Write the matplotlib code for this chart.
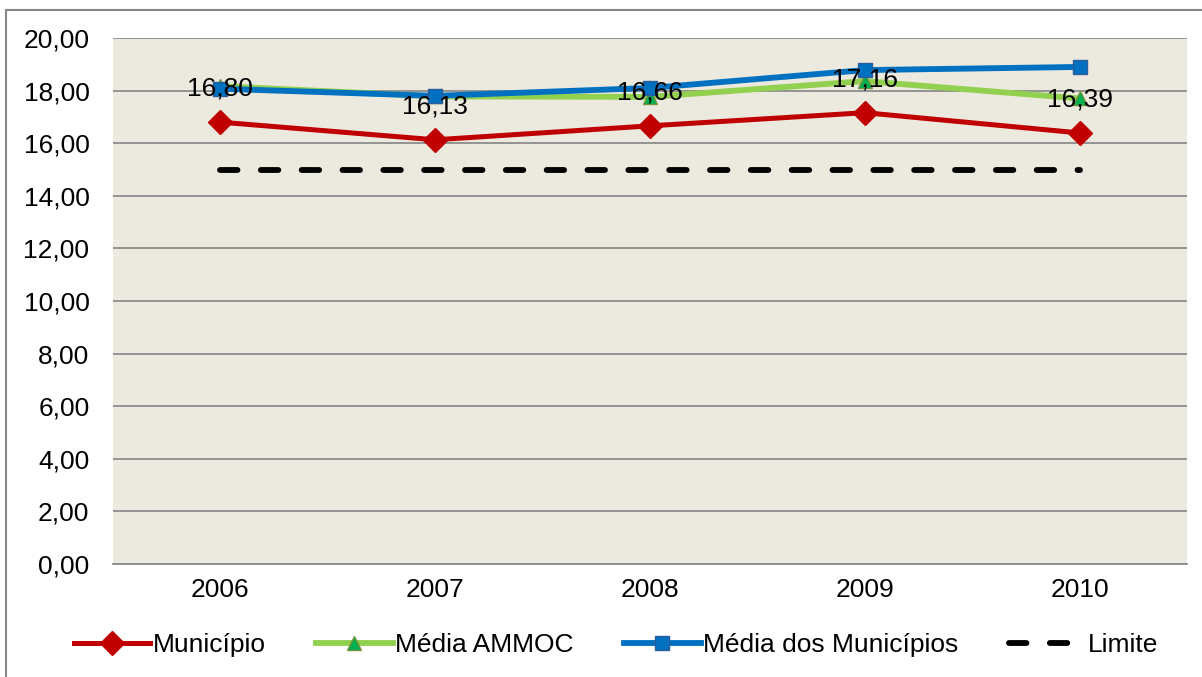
import matplotlib.pyplot as plt
from matplotlib.lines import Line2D

plt.rcParams['font.family'] = ['Liberation Sans', 'DejaVu Sans']

anos = ['2006', '2007', '2008', '2009', '2010']
municipio = [16.80, 16.13, 16.66, 17.16, 16.39]
media_ammoc = [18.17, 17.78, 17.76, 18.36, 17.70]
media_municipios = [18.07, 17.80, 18.10, 18.78, 18.90]
limite = [15.0, 15.0, 15.0, 15.0, 15.0]
rotulos = ['16,80', '16,13', '16,66', '17,16', '16,39']

fig = plt.figure(figsize=(12.02, 6.77), dpi=100)
ax = fig.add_axes([113 / 1202, 1 - 564 / 677, (1187 - 113) / 1202, (564 - 38) / 677])
ax.set_facecolor('#ECE9DF')

x = range(len(anos))
ax.plot(x, municipio, color='#C00000', lw=3.6, marker='D', ms=12,
        mfc='#C00000', mec='#C00000', label='Município', zorder=3)
ax.plot(x, media_ammoc, color='#92D050', lw=4.2, marker='^', ms=10,
        mfc='#00B050', mec='#77933C', label='Média AMMOC', zorder=4)
ax.plot(x, media_municipios, color='#0070C0', lw=4.2, marker='s', ms=10,
        mfc='#0070C0', mec='#2C5D9A', label='Média dos Municípios', zorder=5)
ax.plot(x, limite, color='black', lw=4.2, ls=(0, (3.0, 4.0)),
        dash_capstyle='round', label='Limite', zorder=3)

for i, v in enumerate(municipio):
    ax.annotate(rotulos[i], (i, v), xytext=(0, 24), textcoords='offset points',
                ha='center', va='center', fontsize=19, color='black', zorder=6)

ax.set_xlim(-0.5, 4.5)
ax.set_ylim(0, 20)
ax.set_yticks(range(0, 21, 2))
ax.set_yticklabels([f'{v:.2f}'.replace('.', ',') for v in range(0, 21, 2)], fontsize=19)
ax.set_xticks(list(x))
ax.set_xticklabels(anos, fontsize=19)
ax.tick_params(length=0, pad=10)
ax.tick_params(axis='y', pad=17)
ax.grid(axis='y', color='#8C8C8C', lw=1.3)
ax.set_axisbelow(True)
for s in ['top', 'right', 'left']:
    ax.spines[s].set_visible(False)
ax.spines['bottom'].set_color('#8C8C8C')
ax.spines['bottom'].set_linewidth(1.3)

ax.legend(loc='center', bbox_to_anchor=(616 / 1202, (677 - 645) / 677), bbox_transform=fig.transFigure,
          ncol=4, frameon=False, fontsize=19, handlelength=2.9, handletextpad=0.1,
          columnspacing=1.9)

# moldura externa
fig.add_artist(Line2D([6 / 1202, 1], [1 - 10 / 677, 1 - 10 / 677], color='#868686', lw=1.5))
fig.add_artist(Line2D([6 / 1202, 6 / 1202], [0, 1 - 10 / 677], color='#868686', lw=1.5))

fig.savefig('out.png', dpi=100)
